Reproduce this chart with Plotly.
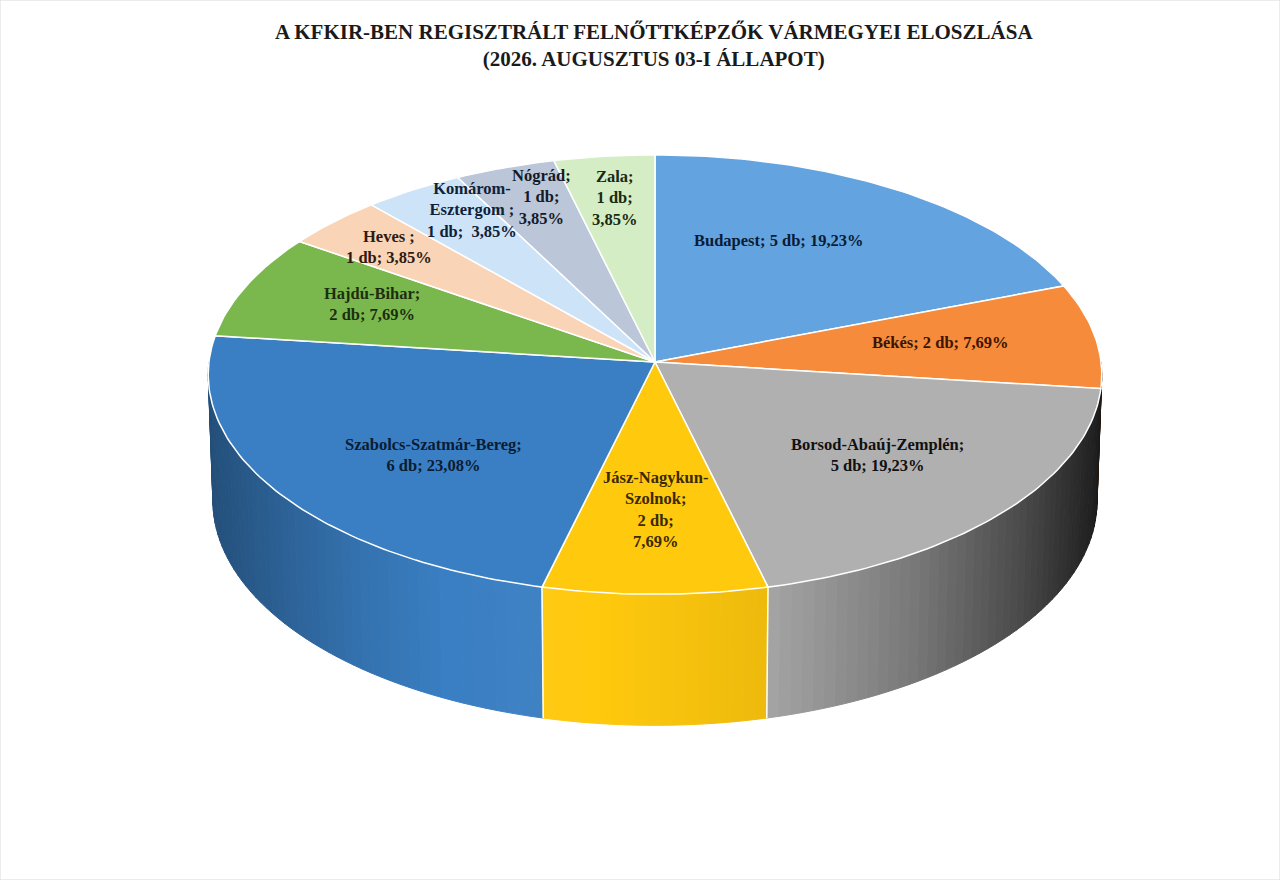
import numpy as np
import plotly.graph_objects as go

# ---- adatok (a kép leolvasása alapján) ----
megyek = ["Budapest", "Békés", "Borsod-Abaúj-Zemplén", "Jász-Nagykun-Szolnok",
          "Szabolcs-Szatmár-Bereg", "Hajdú-Bihar", "Heves ", "Komárom-Esztergom ",
          "Nógrád", "Zala"]
darab = [5, 2, 5, 2, 6, 2, 1, 1, 1, 1]
szinek = ["#62A3E0", "#F58B3B", "#B0B0B0", "#FFC90E", "#3A7FC3",
          "#7AB84E", "#F9D4B7", "#CDE3F7", "#BBC6D9", "#D4EDC5"]
szoveg_szinek = ["#0B1C33", "#3B1500", "#111111", "#3A2A00", "#0B1C33",
                 "#1D2E10", "#2E1A10", "#0F2238", "#141A28", "#1A2A12"]

cim = ("A KFKIR-BEN REGISZTRÁLT FELNŐTTKÉPZŐK VÁRMEGYEI ELOSZLÁSA<br>"
       "(2026. AUGUSZTUS 03-I ÁLLAPOT)")

# feliratok tördelése, helye (sugár, szögeltolás fokban)
nev_sorok = ["Budapest", "Békés", "Borsod-Abaúj-Zemplén", "Jász-Nagykun-<br>Szolnok",
             "Szabolcs-Szatmár-Bereg", "Hajdú-Bihar", "Heves ", "Komárom-<br>Esztergom ",
             "Nógrád", "Zala"]
sep1 = [" ", " ", "<br>", "<br>", "<br>", "<br>", "<br>", "<br>", "<br>", "<br>"]
sep2 = [" ", " ", " ", "<br>", " ", " ", " ", "  ", "<br>", "<br>"]
felirat_r = [0.64, 0.65, 0.64, 0.65, 0.64, 0.70, 0.82, 0.84, 0.83, 0.79]
felirat_tol = [-8, -1, -1, 0, -6, 2, 0, 4, 2, 0]

# ---- 3D nézet (perspektíva) ----
phi = np.radians(29.4)
s, c = np.sin(phi), np.cos(phi)
L = 15.25        # kamera távolság
k = 6802         # skála
cx, cy = 655, 362
t = 0.328        # vastagság


def proj(X, Y, Z):
    d = L - Y * s - Z * c
    return cx + k * X / d, cy - k * (Y * c - Z * s) / d


def pont(theta_deg, r=1.0, Y=0.0):
    th = np.radians(theta_deg)
    return proj(r * np.sin(th), Y, -r * np.cos(th))


def arnyal(hex_szin, f):
    rgb = np.array([int(hex_szin[i:i + 2], 16) for i in (1, 3, 5)], dtype=float)
    if f > 1:
        rgb = rgb + (255 - rgb) * min(1.0, (f - 1) * 1.5)
    else:
        rgb = rgb * f
    rgb = np.clip(rgb, 0, 255).astype(int)
    return "rgb(%d,%d,%d)" % tuple(rgb)


# oldalfal megvilágítása a vízszintes helyzet szerint
feny_u = [-1, -0.65, -0.45, -0.25, 0, 0.25, 0.55, 0.8, 1]
feny_f = [0.62, 0.89, 1.0, 1.02, 0.98, 0.93, 0.69, 0.42, 0.15]

osszes = sum(darab)
hatarok = np.concatenate([[0], np.cumsum(darab)]) / osszes * 360

fig = go.Figure()

# ---- oldalfalak (hátulról előre) ----
savok = []
for i in range(len(darab)):
    a0 = max(hatarok[i], 90)
    a1 = min(hatarok[i + 1], 270)
    if a1 <= a0:
        continue
    n = max(2, int(np.ceil((a1 - a0) / 1.5)))
    szogek = np.linspace(a0, a1, n + 1)
    for j in range(n):
        savok.append((i, szogek[j], szogek[j + 1]))

savok.sort(key=lambda v: -abs((v[1] + v[2]) / 2 - 180))
for i, b0, b1 in savok:
    ths = np.linspace(b0, b1, 4)
    felso = [pont(th) for th in ths]
    also = [pont(th, Y=-t) for th in ths[::-1]]
    xs = [p[0] for p in felso + also] + [felso[0][0]]
    ys = [p[1] for p in felso + also] + [felso[0][1]]
    u = np.sin(np.radians((b0 + b1) / 2))
    szin = arnyal(szinek[i], float(np.interp(u, feny_u, feny_f)))
    fig.add_trace(go.Scatter(x=xs, y=ys, mode="lines", fill="toself",
                             fillcolor=szin, line=dict(color=szin, width=1),
                             hoverinfo="skip", showlegend=False))

# szeletek határa az oldalfalon
for h in hatarok[1:-1]:
    if 110 < h < 250:
        p1, p2 = pont(h), pont(h, Y=-t)
        fig.add_trace(go.Scatter(x=[p1[0], p2[0]], y=[p1[1], p2[1]], mode="lines",
                                 line=dict(color="white", width=1.5),
                                 hoverinfo="skip", showlegend=False))

# ---- felső lap szeletei ----
for i in range(len(darab)):
    ths = np.linspace(hatarok[i], hatarok[i + 1], max(3, int(hatarok[i + 1] - hatarok[i]) + 2))
    ivek = [pont(th) for th in ths]
    xs = [cx] + [p[0] for p in ivek] + [cx]
    ys = [cy] + [p[1] for p in ivek] + [cy]
    fig.add_trace(go.Scatter(x=xs, y=ys, mode="lines", fill="toself",
                             fillcolor=szinek[i], line=dict(color="white", width=1.5),
                             hoverinfo="skip", showlegend=False,
                             name=megyek[i]))

# ---- feliratok ----
for i in range(len(darab)):
    szazalek = f"{darab[i] / osszes * 100:.2f}".replace(".", ",")
    szoveg = f"{nev_sorok[i]};{sep1[i]}{darab[i]} db;{sep2[i]}{szazalek}%"
    kozep = (hatarok[i] + hatarok[i + 1]) / 2 + felirat_tol[i]
    x, y = pont(kozep, r=felirat_r[i])
    fig.add_annotation(x=x, y=y, text=szoveg, showarrow=False,
                       xanchor="center", yanchor="middle", align="center",
                       font=dict(family="Liberation Serif, Times New Roman, serif",
                                 size=16.5, color=szoveg_szinek[i], weight="bold"))

fig.add_annotation(x=0.511, y=45, xref="paper", yref="y", text=cim, showarrow=False,
                   xanchor="center", yanchor="middle", align="center",
                   font=dict(family="Liberation Serif, Times New Roman, serif",
                             size=21, color="#1A1A1A", weight="bold"))

fig.add_shape(type="rect", xref="paper", yref="paper", x0=0, y0=0, x1=1, y1=1,
              line=dict(color="#D9D9D9", width=1))

fig.update_xaxes(range=[0, 1280], visible=False, fixedrange=True)
fig.update_yaxes(range=[880, 0], visible=False, fixedrange=True)
fig.update_layout(width=1280, height=880, margin=dict(l=0, r=0, t=0, b=0),
                  paper_bgcolor="white", plot_bgcolor="white",
                  showlegend=False)

fig.write_html("out.html", config={"displayModeBar": False},
               post_script="document.body.style.margin='0px';")
